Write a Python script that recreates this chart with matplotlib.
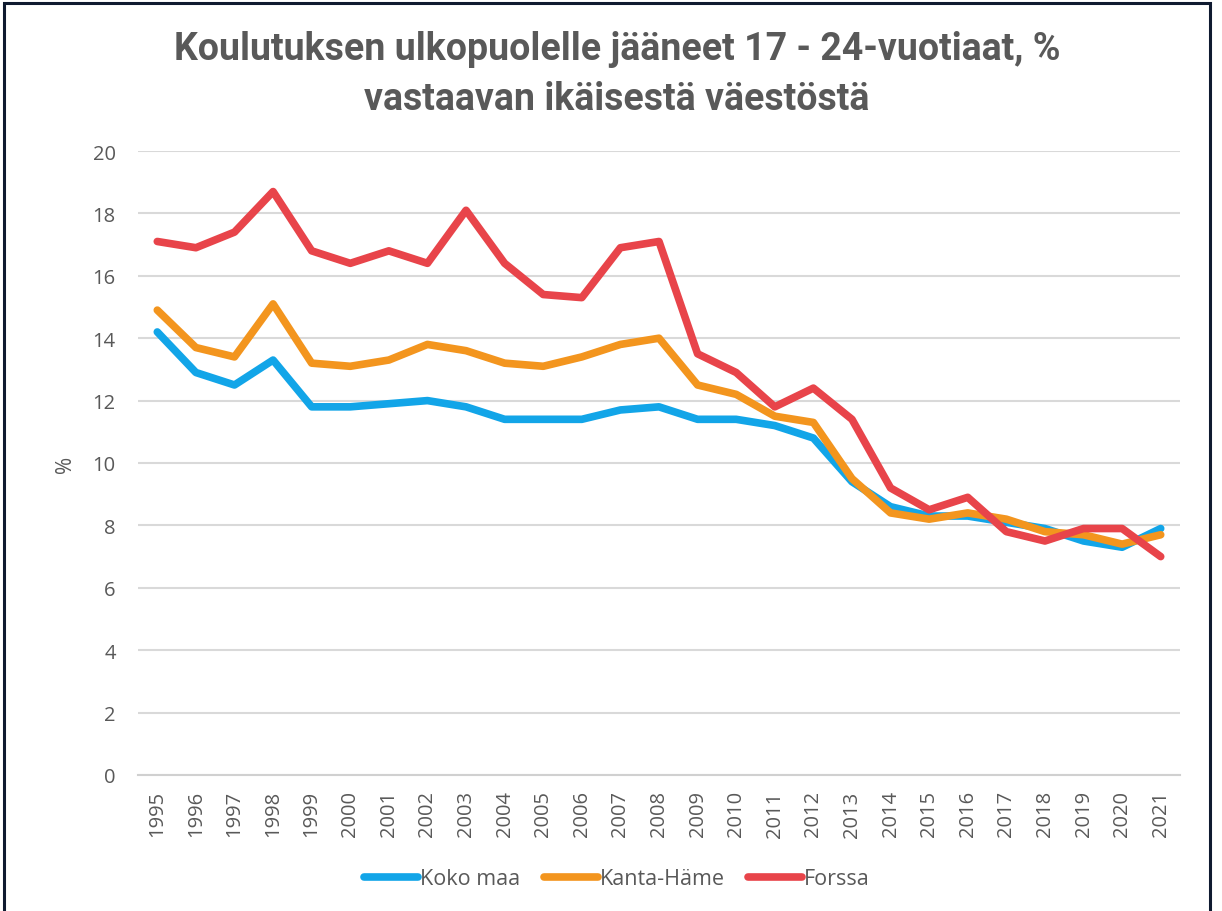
import matplotlib
matplotlib.use("Agg")
import matplotlib.pyplot as plt
from matplotlib.patches import Rectangle

years = [str(y) for y in range(1995, 2022)]
koko_maa = [14.2, 12.9, 12.5, 13.3, 11.8, 11.8, 11.9, 12.0, 11.8, 11.4, 11.4, 11.4, 11.7, 11.8,
            11.4, 11.4, 11.2, 10.8, 9.4, 8.6, 8.3, 8.3, 8.1, 7.9, 7.5, 7.3, 7.9]
kanta_hame = [14.9, 13.7, 13.4, 15.1, 13.2, 13.1, 13.3, 13.8, 13.6, 13.2, 13.1, 13.4, 13.8, 14.0,
              12.5, 12.2, 11.5, 11.3, 9.5, 8.4, 8.2, 8.4, 8.2, 7.8, 7.7, 7.4, 7.7]
forssa = [17.1, 16.9, 17.4, 18.7, 16.8, 16.4, 16.8, 16.4, 18.1, 16.4, 15.4, 15.3, 16.9, 17.1,
          13.5, 12.9, 11.8, 12.4, 11.4, 9.2, 8.5, 8.9, 7.8, 7.5, 7.9, 7.9, 7.0]
series_names = ["Koko maa", "Kanta-Häme", "Forssa"]
colors = ["#12A5E8", "#F3951E", "#E8444A"]
yticks = [0, 2, 4, 6, 8, 10, 12, 14, 16, 18, 20]

W, H = 1222, 912
fig = plt.figure(figsize=(W / 100, H / 100), dpi=100)
fig.patch.set_facecolor("white")

# outer frame
fig.patches.append(Rectangle((4 / W, -0.05), (1210 - 4) / W, 1.05 - 4 / H,
                             transform=fig.transFigure, fill=False,
                             edgecolor="#0f1a30", linewidth=2.2))

ax = fig.add_axes([138 / W, 1 - 776 / H, (1180 - 138) / W, (776 - 152) / H])
x = list(range(len(years)))
for vals, name, c in zip([koko_maa, kanta_hame, forssa], series_names, colors):
    ax.plot(x, vals, color=c, linewidth=5.5, label=name, solid_capstyle="round",
            solid_joinstyle="round")

ax.set_xlim(-0.5, len(years) - 0.5)
ax.set_ylim(0, 20)
ax.set_yticks(yticks)
ax.set_xticks(x)
ax.set_xticklabels(years, rotation=90)
for s in ["top", "right", "left"]:
    ax.spines[s].set_visible(False)
ax.spines["bottom"].set_color("#d0d0d0")
ax.spines["bottom"].set_linewidth(1.5)
ax.grid(axis="y", color="#d9d9d9", linewidth=1.5)
ax.set_axisbelow(True)
ax.tick_params(axis="y", length=0, pad=16, labelsize=14.5, labelcolor="#595959")
ax.tick_params(axis="x", length=0, pad=11, labelsize=14.5, labelcolor="#595959")
for lab in ax.get_xticklabels() + ax.get_yticklabels():
    lab.set_fontfamily("Open Sans")
ax.set_ylabel("%", fontsize=15, color="#595959", fontfamily="Open Sans", labelpad=12)

fig.text(0.505, 1 - 50 / H, "Koulutuksen ulkopuolelle jääneet 17 - 24-vuotiaat, %",
         ha="center", va="center", fontsize=27, fontweight="bold", color="#595959",
         fontfamily="Roboto")
fig.text(0.505, 1 - 99 / H, "vastaavan ikäisestä väestöstä",
         ha="center", va="center", fontsize=27, fontweight="bold", color="#595959",
         fontfamily="Roboto")

leg = fig.legend(loc="center", bbox_to_anchor=(617 / W, 1 - 880 / H), ncol=3,
                 frameon=False, handlelength=2.5, handletextpad=0.1, columnspacing=1.1,
                 prop={"family": "Open Sans", "size": 15.5})
for t in leg.get_texts():
    t.set_color("#595959")

fig.savefig("out.png", dpi=100)
